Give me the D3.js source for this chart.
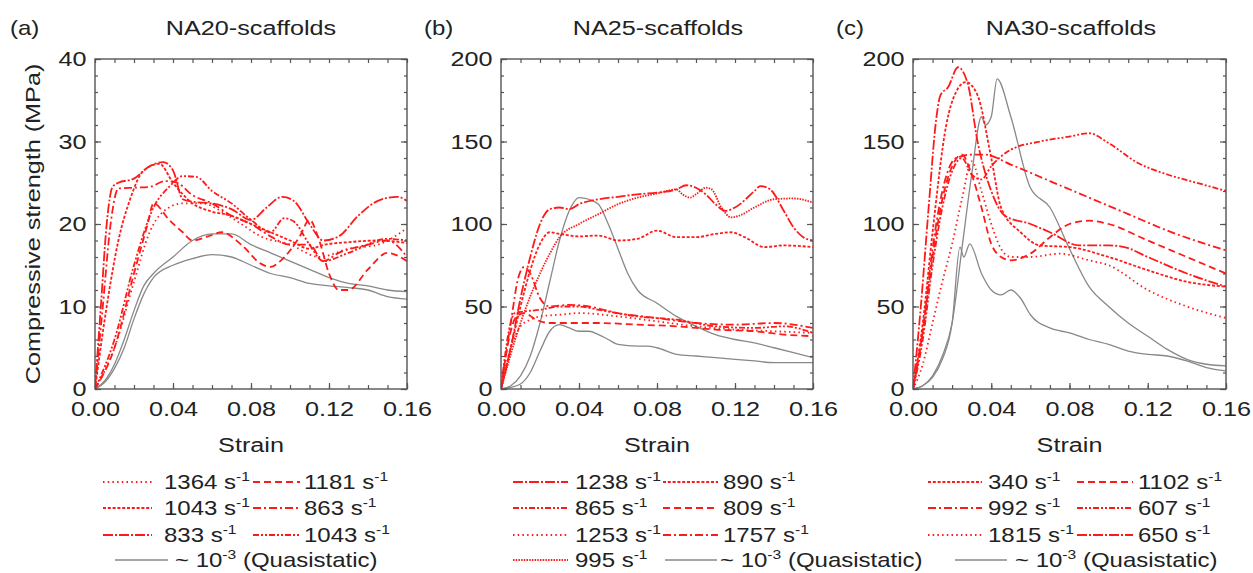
<!DOCTYPE html>
<meta charset="utf-8">
<head>
<script src="https://d3js.org/d3.v7.min.js"></script>
<style>
body { margin: 0; background: #fff; font-family: "Liberation Sans", Arial, sans-serif; }
text { fill: #222; font-family: "Liberation Sans", Arial, sans-serif; }
.frame { fill: none; stroke: #555; stroke-width: 1.4px; }
.tick line { stroke: #555; stroke-width: 1.2px; }
.curve { fill: none; stroke-width: 1.8px; }
</style>
</head>
<body>
<script>
// ---------- data (strain, MPa) ----------
var strainTicks = [0, 0.04, 0.08, 0.12, 0.16];

// NA20
var na20_1364 = [[0,0],[0.01,5],[0.02,13],[0.028,19],[0.035,21.5],[0.045,22.5],[0.055,22.5],[0.065,21.5],[0.075,20],[0.085,18.5],[0.1,17.5],[0.115,16],[0.13,17],[0.145,17.5],[0.16,19.5]];
var na20_1181 = [[0,0],[0.01,5],[0.02,14],[0.027,20],[0.03,22.5],[0.038,20.5],[0.045,19],[0.05,18],[0.058,18.5],[0.065,19],[0.075,17.5],[0.085,15.2],[0.09,14.8],[0.095,15.5],[0.105,18.5],[0.11,20.5],[0.115,18],[0.12,14],[0.125,12],[0.13,12],[0.14,14.5],[0.15,16.5],[0.16,15.5]];
var na20_1043a = [[0,0],[0.006,10],[0.012,18],[0.018,23],[0.025,26.5],[0.033,27.3],[0.04,25],[0.05,22.5],[0.06,21.5],[0.07,21],[0.08,20],[0.09,19],[0.1,18],[0.11,17],[0.118,17.5],[0.13,17.8],[0.145,18],[0.16,17.7]];
var na20_863 = [[0,0],[0.004,10],[0.008,20],[0.012,24.3],[0.02,24.4],[0.028,24.5],[0.036,25.2],[0.042,25],[0.05,23.5],[0.06,22.5],[0.07,21],[0.08,20],[0.09,18.5],[0.1,17.5],[0.11,17.5],[0.117,15.5],[0.125,16.5],[0.14,17.5],[0.15,18],[0.16,16]];
var na20_833 = [[0,0],[0.003,10],[0.006,20],[0.009,24.5],[0.012,25],[0.02,25.5],[0.028,27],[0.035,27.5],[0.04,26.5],[0.045,23],[0.05,22.7],[0.06,22.5],[0.07,21.8],[0.08,20.5],[0.088,22],[0.096,23.3],[0.102,22.8],[0.11,20],[0.117,18],[0.125,18.5],[0.135,21],[0.145,22.8],[0.155,23.3],[0.16,22.8]];
var na20_1043b = [[0,0],[0.01,6],[0.02,15],[0.03,22],[0.038,24.5],[0.045,25.8],[0.052,25.7],[0.06,24],[0.07,22.5],[0.08,20.5],[0.09,19],[0.097,20.7],[0.102,20.3],[0.11,17.5],[0.117,15.5],[0.13,16.5],[0.15,18.2],[0.16,18]];
var na20_qs1 = [[0,0],[0.005,1],[0.01,3],[0.015,6],[0.02,9.5],[0.025,12.5],[0.03,14],[0.04,16],[0.05,18],[0.06,18.8],[0.07,18.8],[0.08,17.5],[0.09,16.5],[0.1,15.5],[0.11,14.5],[0.12,13.5],[0.13,12.8],[0.14,12.5],[0.15,12],[0.16,11.8]];
var na20_qs2 = [[0,0],[0.005,0.8],[0.01,2.5],[0.015,5],[0.02,8.5],[0.025,11.5],[0.03,13.5],[0.04,15],[0.05,15.8],[0.06,16.3],[0.07,16],[0.08,15],[0.09,14],[0.1,13.5],[0.11,12.8],[0.12,12.5],[0.13,12.3],[0.14,12],[0.15,11.2],[0.16,10.9]];

// NA25
var na25_1238 = [[0,0],[0.005,25],[0.01,55],[0.015,80],[0.02,100],[0.025,109],[0.03,110],[0.035,109],[0.04,112],[0.05,115],[0.06,116.5],[0.07,118],[0.08,119],[0.09,121],[0.095,123.5],[0.1,122],[0.105,118],[0.11,112],[0.115,108],[0.12,110],[0.13,120],[0.133,123],[0.138,121],[0.145,108],[0.15,98],[0.155,92],[0.16,90]];
var na25_890 = [[0,0],[0.005,25],[0.01,50],[0.015,72],[0.02,88],[0.025,95],[0.03,94],[0.04,92.5],[0.05,93],[0.06,90],[0.07,91],[0.08,96],[0.09,92],[0.1,92],[0.11,94],[0.118,95],[0.125,92],[0.135,86],[0.145,87],[0.16,86]];
var na25_865 = [[0,0],[0.004,35],[0.007,46],[0.012,47],[0.02,48],[0.03,50],[0.04,50],[0.05,48],[0.07,44],[0.09,42],[0.11,38],[0.13,37],[0.145,38],[0.16,34]];
var na25_809 = [[0,0],[0.004,30],[0.008,44],[0.012,46],[0.018,42],[0.025,40],[0.035,40],[0.05,40],[0.07,39],[0.09,38],[0.11,36],[0.13,35],[0.145,33],[0.16,32]];
var na25_1253 = [[0,0],[0.005,25],[0.01,38],[0.015,42],[0.02,44],[0.03,45],[0.04,46],[0.06,44],[0.08,41],[0.1,38],[0.12,36],[0.14,35],[0.16,34]];
var na25_1757 = [[0,0],[0.005,40],[0.009,68],[0.012,74],[0.015,70],[0.02,55],[0.025,50],[0.035,51],[0.045,50],[0.06,46],[0.08,43],[0.1,40],[0.12,39],[0.14,40],[0.16,37]];
var na25_995 = [[0,0],[0.01,40],[0.02,70],[0.025,82],[0.03,92],[0.04,100],[0.05,106],[0.06,112],[0.07,116],[0.08,118.5],[0.09,121],[0.093,118],[0.097,116],[0.1,118],[0.105,122],[0.108,121],[0.113,110],[0.118,104],[0.122,105],[0.13,110],[0.14,115],[0.15,115.5],[0.16,113]];
var na25_qs1 = [[0,0],[0.005,2],[0.01,8],[0.015,20],[0.02,40],[0.025,65],[0.03,90],[0.035,108],[0.04,116],[0.045,115],[0.05,112],[0.055,100],[0.06,85],[0.065,70],[0.07,60],[0.08,52],[0.09,44],[0.1,38],[0.11,33],[0.12,30],[0.13,28],[0.14,25],[0.15,22],[0.16,19]];
var na25_qs2 = [[0,0],[0.005,1],[0.01,3],[0.015,10],[0.02,23],[0.025,35],[0.03,39],[0.035,37],[0.04,35],[0.045,35],[0.05,33],[0.055,30],[0.06,27],[0.07,26],[0.075,26],[0.08,25],[0.09,21],[0.1,20],[0.11,19],[0.12,18],[0.13,17],[0.14,16],[0.15,16],[0.16,16]];

// NA30
var na30_340 = [[0,0],[0.005,40],[0.01,95],[0.017,160],[0.022,180],[0.027,186],[0.033,178],[0.04,140],[0.045,110],[0.055,95],[0.065,87],[0.08,86],[0.1,80],[0.12,72],[0.14,65],[0.16,62]];
var na30_1102 = [[0,0],[0.005,35],[0.01,80],[0.015,115],[0.02,135],[0.025,142],[0.03,130],[0.035,110],[0.04,88],[0.045,80],[0.05,78],[0.06,82],[0.07,92],[0.08,100],[0.09,102],[0.1,100],[0.12,90],[0.14,80],[0.16,70]];
var na30_992 = [[0,0],[0.005,35],[0.01,85],[0.015,120],[0.022,140],[0.03,142],[0.037,142],[0.05,136],[0.07,126],[0.09,116],[0.11,106],[0.13,96],[0.16,84]];
var na30_607 = [[0,0],[0.005,30],[0.01,75],[0.015,110],[0.02,132],[0.025,140],[0.03,130],[0.035,127],[0.04,135],[0.05,145],[0.065,150],[0.08,153],[0.09,155],[0.1,149],[0.115,137],[0.13,130],[0.145,125],[0.16,120]];
var na30_1815 = [[0,0],[0.005,15],[0.01,40],[0.015,65],[0.02,88],[0.025,115],[0.03,138],[0.035,120],[0.04,100],[0.045,85],[0.05,80],[0.06,80],[0.075,82],[0.09,78],[0.1,75],[0.12,60],[0.14,50],[0.16,43]];
var na30_650 = [[0,0],[0.004,50],[0.008,110],[0.012,165],[0.014,178],[0.018,183],[0.023,195],[0.028,185],[0.033,150],[0.04,120],[0.047,105],[0.06,100],[0.07,95],[0.085,87],[0.1,87],[0.108,86],[0.12,80],[0.14,70],[0.16,62]];
var na30_qs1 = [[0,0],[0.005,2],[0.01,8],[0.015,20],[0.02,40],[0.025,85],[0.03,130],[0.035,165],[0.037,160],[0.04,165],[0.043,188],[0.05,165],[0.06,122],[0.07,110],[0.08,85],[0.09,62],[0.1,50],[0.11,40],[0.12,32],[0.13,24],[0.14,18],[0.15,15],[0.16,14]];
var na30_qs2 = [[0,0],[0.005,2],[0.01,7],[0.015,18],[0.02,40],[0.024,86],[0.026,80],[0.029,88],[0.035,70],[0.04,60],[0.045,57],[0.05,60],[0.055,55],[0.06,45],[0.07,37],[0.08,34],[0.09,30],[0.1,27],[0.11,23],[0.12,21],[0.13,20],[0.14,17],[0.15,13],[0.16,11]];

// ---------- styles ----------
var RED = "#ff1a1a", GREY = "#888888";
var SX = 1.2; // the reference lettering is drawn horizontally stretched
var dash = {
  dot: "1.5,3.2",
  densedot: "1.5,1.2",
  short: "3,1.8",
  dashed: "7,4",
  dashdot: "8,3,2,3",
  longdashdot: "10,2,2,2",
  dashdotdot: "6,2,2,2,2,2",
  solid: null
};

var panels = [
  { tag: "(a)", title: "NA20-scaffolds", left: 95, right: 407, ymax: 40, ymaj: 10, ymin: 2,
    tagX: 10, titleX: 251,
    series: [
      {rate: "1364", d: na20_1364, s: "dot", col: 0, row: 0},
      {rate: "1181", d: na20_1181, s: "dashed", col: 1, row: 0},
      {rate: "1043", d: na20_1043a, s: "short", col: 0, row: 1},
      {rate: "863", d: na20_863, s: "dashdot", col: 1, row: 1},
      {rate: "833", d: na20_833, s: "longdashdot", col: 0, row: 2},
      {rate: "1043", d: na20_1043b, s: "dashdotdot", col: 1, row: 2}
    ],
    qs: [na20_qs1, na20_qs2],
    legCols: [[103, 152, 164], [253, 300, 304]],
    qsLeg: [115, 168, 175, 3] },
  { tag: "(b)", title: "NA25-scaffolds", left: 501, right: 813, ymax: 200, ymaj: 50, ymin: 10,
    tagX: 424, titleX: 658,
    series: [
      {rate: "1238", d: na25_1238, s: "longdashdot", col: 0, row: 0},
      {rate: "890", d: na25_890, s: "short", col: 1, row: 0},
      {rate: "865", d: na25_865, s: "dashdotdot", col: 0, row: 1},
      {rate: "809", d: na25_809, s: "dashed", col: 1, row: 1},
      {rate: "1253", d: na25_1253, s: "dot", col: 0, row: 2},
      {rate: "1757", d: na25_1757, s: "dashdot", col: 1, row: 2},
      {rate: "995", d: na25_995, s: "densedot", col: 0, row: 3}
    ],
    qs: [na25_qs1, na25_qs2],
    legCols: [[513, 568, 575], [663, 718, 723]],
    qsLeg: [665, 717, 720, 3] },
  { tag: "(c)", title: "NA30-scaffolds", left: 913, right: 1226, ymax: 200, ymaj: 50, ymin: 10,
    tagX: 836, titleX: 1071,
    series: [
      {rate: "340", d: na30_340, s: "short", col: 0, row: 0},
      {rate: "1102", d: na30_1102, s: "dashed", col: 1, row: 0},
      {rate: "992", d: na30_992, s: "dashdot", col: 0, row: 1},
      {rate: "607", d: na30_607, s: "dashdotdot", col: 1, row: 1},
      {rate: "1815", d: na30_1815, s: "dot", col: 0, row: 2},
      {rate: "650", d: na30_650, s: "longdashdot", col: 1, row: 2}
    ],
    qs: [na30_qs1, na30_qs2],
    legCols: [[928, 982, 988], [1077, 1133, 1138]],
    qsLeg: [955, 1007, 1015, 3] }
];

var plotTop = 59, plotBottom = 389;
var legRows = [482, 508, 535, 560];

var svg = d3.select("body").append("svg")
    .attr("width", 1253)
    .attr("height", 573);

// text helper: place at (x,y) and stretch horizontally like the reference
function label(g, x, y, str, size, anchor) {
  return g.append("text")
    .attr("transform", "translate(" + x + "," + y + ") scale(" + SX + ",1)")
    .style("text-anchor", anchor || "start")
    .style("font-size", size + "px")
    .text(str);
}

svg.append("text")
    .attr("transform", "translate(40,224) rotate(-90) scale(" + SX + ",1)")
    .style("text-anchor", "middle")
    .style("font-size", "21px")
    .text("Compressive strength (MPa)");

panels.forEach(function(p, i) {
  var x = d3.scaleLinear().domain([0, 0.16]).range([p.left, p.right]);
  var y = d3.scaleLinear().domain([0, p.ymax]).range([plotBottom, plotTop]);
  var g = svg.append("g");

  // clip to the plotting box
  g.append("clipPath").attr("id", "clip" + i)
    .append("rect").attr("x", p.left).attr("y", plotTop)
    .attr("width", p.right - p.left).attr("height", plotBottom - plotTop);

  var line = d3.line()
      .x(function(d) { return x(d[0]); })
      .y(function(d) { return y(d[1]); })
      .curve(d3.curveMonotoneX);

  var plot = g.append("g").attr("clip-path", "url(#clip" + i + ")");

  p.qs.forEach(function(d) {
    plot.append("path").datum(d).attr("class", "curve")
        .attr("d", line).style("stroke", GREY).style("stroke-width", "1.3px");
  });
  p.series.forEach(function(s) {
    plot.append("path").datum(s.d).attr("class", "curve")
        .attr("d", line).style("stroke", RED)
        .style("stroke-dasharray", dash[s.s]);
  });

  // axes: inward ticks on all four sides, minor ticks without labels
  var xMinor = d3.range(0, 0.1601, 0.01);
  var yMinor = d3.range(0, p.ymax + 0.001, p.ymin);
  var yMajor = d3.range(0, p.ymax + 0.001, p.ymaj);
  var noDomain = function(a) { a.select(".domain").remove(); };
  var styleLabels = function(a) {
    a.select(".domain").remove();
    a.selectAll("text").style("font-size", "21px").style("fill", "#222")
      .attr("transform", "scale(" + SX + ",1)");
  };

  g.append("g").attr("transform", "translate(0," + plotBottom + ")")
    .call(d3.axisBottom(x).tickValues(xMinor).tickSize(-4).tickFormat(""))
    .call(noDomain);
  g.append("g").attr("transform", "translate(0," + plotTop + ")")
    .call(d3.axisTop(x).tickValues(xMinor).tickSize(-4).tickFormat(""))
    .call(noDomain);
  g.append("g").attr("transform", "translate(0," + plotBottom + ")")
    .call(d3.axisBottom(x).tickValues(strainTicks).tickSize(-6).tickPadding(12)
      .tickFormat(d3.format(".2f")))
    .call(styleLabels);

  g.append("g").attr("transform", "translate(" + p.left + ",0)")
    .call(d3.axisLeft(y).tickValues(yMinor).tickSize(-3).tickFormat(""))
    .call(noDomain);
  g.append("g").attr("transform", "translate(" + p.right + ",0)")
    .call(d3.axisRight(y).tickValues(yMinor).tickSize(-3).tickFormat(""))
    .call(noDomain);
  g.append("g").attr("transform", "translate(" + p.left + ",0)")
    .call(d3.axisLeft(y).tickValues(yMajor).tickSize(-6).tickPadding(7))
    .call(styleLabels);
  g.append("g").attr("transform", "translate(" + p.right + ",0)")
    .call(d3.axisRight(y).tickValues(yMajor).tickSize(-6).tickFormat(""))
    .call(noDomain);

  g.append("rect").attr("class", "frame")
    .attr("x", p.left).attr("y", plotTop)
    .attr("width", p.right - p.left).attr("height", plotBottom - plotTop);

  // titles
  label(g, p.tagX, 35, p.tag, 20);
  label(g, p.titleX, 35, p.title, 21, "middle");
  label(g, (p.left + p.right) / 2, 452, "Strain", 21, "middle");

  // legend
  function legItem(x0, x1, tx, yy, color, dashKey, main, sup, tail) {
    g.append("line").attr("x1", x0).attr("x2", x1).attr("y1", yy).attr("y2", yy)
      .style("stroke", color).style("stroke-width", color === RED ? "1.8px" : "1.3px")
      .style("stroke-dasharray", dash[dashKey]);
    var t = label(g, tx, yy + 7, "", 20);
    t.append("tspan").text(main);
    t.append("tspan").attr("dy", -8).style("font-size", "13px").text(sup);
    if (tail) t.append("tspan").attr("dy", 8).text(tail);
  }
  p.series.forEach(function(s) {
    var c = p.legCols[s.col];
    legItem(c[0], c[1], c[2], legRows[s.row], RED, s.s, s.rate + " s", "-1");
  });
  legItem(p.qsLeg[0], p.qsLeg[1], p.qsLeg[2], legRows[p.qsLeg[3]], GREY, "solid",
          "~ 10", "-3", " (Quasistatic)");
});
</script>
</body>
